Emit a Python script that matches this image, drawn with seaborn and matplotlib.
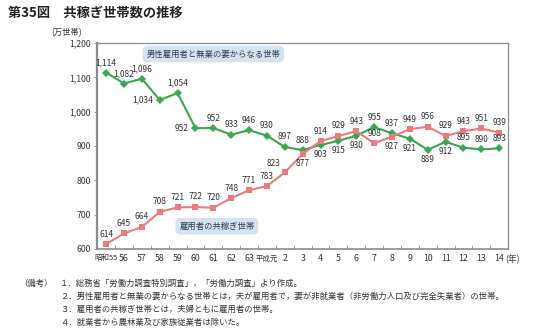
import matplotlib
matplotlib.use("Agg")
import matplotlib.pyplot as plt
from matplotlib.ticker import FuncFormatter, FixedLocator
import numpy as np
import pandas as pd
import seaborn as sns

# 年次ラベル（昭和55年〜平成14年）
years = ["昭和55", "56", "57", "58", "59", "60", "61", "62", "63", "平成元",
         "2", "3", "4", "5", "6", "7", "8", "9", "10", "11", "12", "13", "14"]

# 男性雇用者と無業の妻からなる世帯（万世帯）
single_income = [1114, 1082, 1096, 1034, 1054, 952, 952, 933, 946, 930, 897, 888,
                 903, 915, 930, 955, 937, 921, 889, 912, 895, 890, 893]
# 雇用者の共稼ぎ世帯（万世帯）
dual_income = [614, 645, 664, 708, 721, 722, 720, 748, 771, 783, 823, 877,
               914, 929, 943, 908, 927, 949, 956, 929, 943, 951, 939]

series_names = ["男性雇用者と無業の妻からなる世帯", "雇用者の共稼ぎ世帯"]

# 数値ラベルの位置（a: 上, b: 下, l: 左）
single_pos = ["a", "a", "a", "l", "a", "l", "a", "a", "a", "a", "a", "a",
              "b", "b", "b", "a", "a", "b", "b", "b", "a", "a", "a"]
dual_pos = ["a", "a", "a", "a", "a", "a", "a", "a", "a", "a", "al", "b",
            "a", "a", "a", "a", "b", "a", "a", "a", "a", "a", "a"]

sns.set_theme(style="white")
plt.rcParams["font.family"] = ["Noto Sans CJK JP", "DejaVu Sans"]

GREEN = "#3aa64f"
RED = "#ec7b7b"
SPINE = "#8c8c8c"
TXT = "#333333"

df = pd.DataFrame({
    "x": list(range(len(years))) * 2,
    "value": single_income + dual_income,
    "series": [series_names[0]] * len(years) + [series_names[1]] * len(years),
})

fig = plt.figure(figsize=(5.4, 3.31), dpi=100)
ax = fig.add_axes([0.18, 0.248, 0.761, 0.622])

sns.lineplot(data=df[df.series == series_names[0]], x="x", y="value", ax=ax,
             color=GREEN, lw=1.5, marker="D", markersize=4.2,
             markeredgewidth=0, legend=False)
sns.lineplot(data=df[df.series == series_names[1]], x="x", y="value", ax=ax,
             color=RED, lw=1.5, marker="s", markersize=4.2,
             markeredgewidth=0, legend=False)

ax.set_xlim(-0.5, len(years) - 0.5)
ax.set_ylim(600, 1200)
ax.set_xlabel("")
ax.set_ylabel("")

# 軸目盛り
ax.xaxis.set_major_locator(FixedLocator(range(len(years))))
ax.set_xticklabels(years)
ax.xaxis.set_minor_locator(FixedLocator(np.arange(0.5, len(years) - 1, 1.0)))
ax.tick_params(axis="x", which="major", length=0, pad=4, labelsize=6.3, colors=TXT)
ax.tick_params(axis="x", which="minor", direction="in", length=3, width=0.6,
               color=SPINE, bottom=True)
for lab in ax.get_xticklabels():
    if len(lab.get_text()) > 2:
        lab.set_fontsize(5.4)
ax.yaxis.set_major_locator(FixedLocator(range(600, 1201, 100)))
ax.yaxis.set_major_formatter(FuncFormatter(lambda v, p: f"{int(v):,}"))
ax.tick_params(axis="y", length=2.5, width=0.6, color=SPINE, pad=2,
               labelsize=6.3, labelcolor=TXT, left=True)
for side, sp in ax.spines.items():
    sp.set_color(SPINE)
    sp.set_linewidth(0.9)
ax.spines["left"].set_linewidth(1.6)
ax.spines["bottom"].set_linewidth(1.2)

ax.annotate("(年)", (len(years) - 1, 0), xycoords=("data", "axes fraction"),
            xytext=(4.5, -4), textcoords="offset points",
            fontsize=6.3, color=TXT, ha="left", va="top")
ax.text(-0.075, 1.03, "(万世帯)", transform=ax.transAxes, fontsize=6.0, color=TXT,
        ha="center", va="bottom")

# 数値ラベル
offsets = {"a": (0, 4, "center", "bottom"), "b": (0, -4, "center", "top"),
           "l": (-5, 0, "right", "center"), "al": (-3, 3, "right", "bottom")}
for vals, pos in ((single_income, single_pos), (dual_income, dual_pos)):
    for i, (v, p) in enumerate(zip(vals, pos)):
        dx, dy, ha, va = offsets[p]
        ax.annotate(f"{v:,}", (i, v), xytext=(dx, dy), textcoords="offset points",
                    ha=ha, va=va, fontsize=6.0, color=TXT)

# 系列名の囲み
def label_box(xc, yc, text):
    ax.text(xc, yc, text, ha="center", va="center", fontsize=6.0, color="#2e3a4a",
            bbox=dict(boxstyle="round,pad=0.45,rounding_size=0.6",
                      fc="#d5e3f1", ec="none"))

label_box(6.0, 1168, series_names[0])
label_box(6.2, 666, series_names[1])

# 表題と備考
fig.text(0.015, 0.963, "第35図　共稼ぎ世帯数の推移", fontsize=9.5, fontweight="bold",
         color="#222222", ha="left", va="center")
notes = [
    "１．総務省「労働力調査特別調査」，「労働力調査」より作成。",
    "２．男性雇用者と無業の妻からなる世帯とは，夫が雇用者で，妻が非就業者（非労働力人口及び完全失業者）の世帯。",
    "３．雇用者の共稼ぎ世帯とは，夫婦ともに雇用者の世帯。",
    "４．就業者から農林業及び家族従業者は除いた。",
]
fig.text(0.035, 1 - 283 / 331, "（備考）", fontsize=6.0, color=TXT, ha="left", va="center")
for k, line in enumerate(notes):
    fig.text(0.112, 1 - (283 + 13 * k) / 331, line, fontsize=6.0, color=TXT,
             ha="left", va="center")

fig.savefig("out.png", dpi=100)
